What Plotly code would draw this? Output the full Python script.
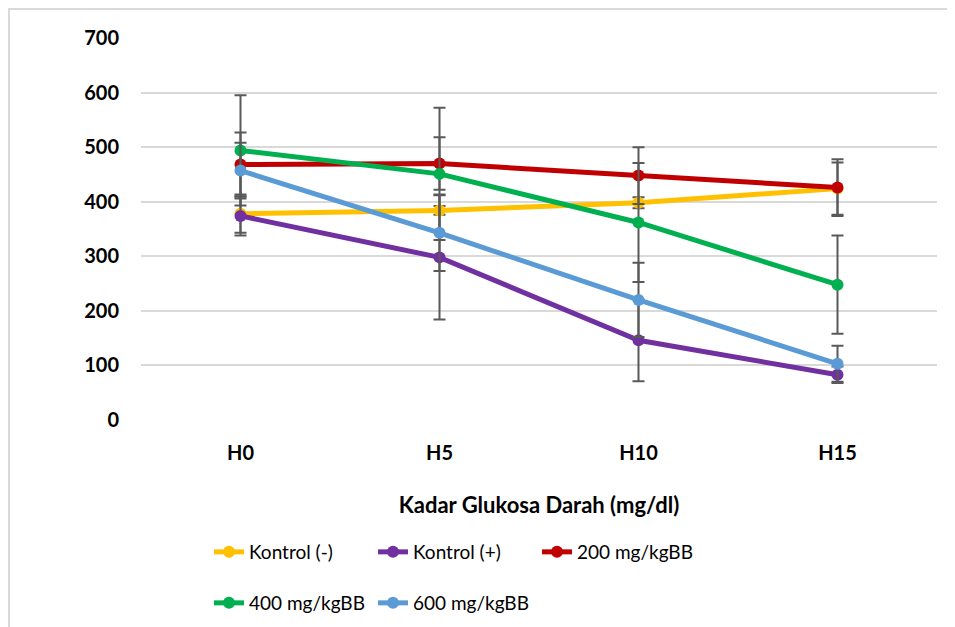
import plotly.graph_objects as go

categories = ["H0", "H5", "H10", "H15"]

series_names = ["Kontrol (-)", "Kontrol (+)", "200 mg/kgBB", "400 mg/kgBB", "600 mg/kgBB"]
kontrol_neg = [378, 384, 398, 424]
kontrol_pos = [374, 298, 146, 83]
dose_200 = [468, 470, 448, 426]
dose_400 = [494, 451, 362, 248]
dose_600 = [457, 343, 220, 103]

err_kontrol_neg = [35, 8, 10, 48]
err_kontrol_pos = [36, 114, 75, 15]
err_200 = [59, 48, 52, 52]
err_400 = [101, 121, 109, 90]
err_600 = [51, 70, 68, 33]

colors = ["#FFC000", "#7030A0", "#C00000", "#00B050", "#5B9BD5"]
y_ticks = [0, 100, 200, 300, 400, 500, 600, 700]

values = [kontrol_neg, kontrol_pos, dose_200, dose_400, dose_600]
errors = [err_kontrol_neg, err_kontrol_pos, err_200, err_400, err_600]
legend_ids = ["legend", "legend", "legend", "legend2", "legend2"]

FONT = "Lato, 'Open Sans', sans-serif"

fig = go.Figure()
for name, vals, errs, col, lg in zip(series_names, values, errors, colors, legend_ids):
    fig.add_trace(go.Scatter(
        x=categories, y=vals, name=name, mode="lines+markers",
        line=dict(color=col, width=5),
        marker=dict(color=col, size=12),
        error_y=dict(type="data", array=errs, visible=True,
                     color="#595959", thickness=2, width=6),
        legend=lg,
    ))

# page has an 8px body margin, so the figure is laid out in page coords minus 8
OFF = 8
W, H = 955 - OFF, 627 - OFF
L, T = 141 - OFF, 38 - OFF
R = W - (937 - OFF)
B = H - (420 - OFF)
PW, PH = W - L - R, H - T - B

fig.update_layout(
    width=W, height=H,
    margin=dict(l=L, r=R, t=T, b=B, autoexpand=False),
    paper_bgcolor="white", plot_bgcolor="white",
    font=dict(family=FONT, color="#000000", size=19),
    xaxis=dict(
        type="category", range=[-0.5, 3.5],
        showgrid=False, showline=False, zeroline=False,
        ticks="", ticklabelstandoff=19,
        tickfont=dict(family=FONT, size=20, color="#000000", weight="bold"),
        title=dict(text="<b>Kadar Glukosa Darah (mg/dl)</b>",
                   font=dict(family=FONT, size=22, color="#000000"),
                   standoff=34),
    ),
    yaxis=dict(
        range=[0, 700], tickvals=y_ticks,
        showgrid=True, gridcolor="#D9D9D9", gridwidth=1.5,
        zeroline=False, showline=False, ticks="",
        ticklabelstandoff=21,
        tickfont=dict(family=FONT, size=20, color="#000000", weight="bold"),
    ),
    showlegend=True,
    legend=dict(orientation="h", xref="container", yref="container",
                x=201 / W, y=1 - (552 - OFF) / H, xanchor="left", yanchor="middle",
                font=dict(family=FONT, size=19, color="#000000"),
                entrywidthmode="pixels", entrywidth=119,
                bgcolor="rgba(0,0,0,0)"),
    legend2=dict(orientation="h", xref="container", yref="container",
                 x=201 / W, y=1 - (603 - OFF) / H, xanchor="left", yanchor="middle",
                 font=dict(family=FONT, size=19, color="#000000"),
                 entrywidthmode="pixels", entrywidth=119,
                 bgcolor="rgba(0,0,0,0)"),
)

# chart-area frame (light grey border running off the right and bottom edges)
fig.add_shape(type="rect", xref="paper", yref="paper",
              x0=(1 - L) / PW, x1=(W + 10 - L) / PW,
              y0=-(H + 10 - (H - B)) / PH, y1=(H - B - 1) / PH,
              line=dict(color="#D9D9D9", width=2), fillcolor="rgba(0,0,0,0)",
              layer="below")

fig.write_html("out.html")
